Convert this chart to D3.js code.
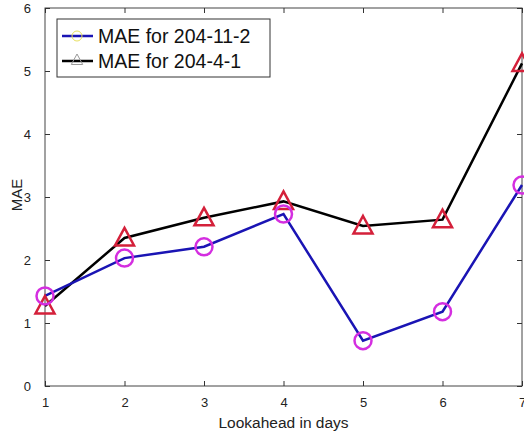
<!DOCTYPE html>
<html>
<head>
<meta charset="utf-8">
<style>
  body { margin: 0; background: #fff; }
  text { font-family: "Liberation Sans", Arial, sans-serif; }
</style>
</head>
<body>
<script src="https://cdn.jsdelivr.net/npm/d3@7"></script>
<script>
// data
var days = [1, 2, 3, 4, 5, 6, 7];
var mae11 = [1.43, 2.03, 2.21, 2.73, 0.72, 1.18, 3.19];
var mae4 = [1.27, 2.35, 2.67, 2.93, 2.54, 2.64, 5.12];
var yTicks = [0, 1, 2, 3, 4, 5, 6];
var names = ["MAE for 204-11-2", "MAE for 204-4-1"];

var width = 524, height = 436;
var m = {left: 45, right: 2, top: 8, bottom: 50};

var svg = d3.select("body").append("svg")
  .attr("width", width).attr("height", height);

var x = d3.scaleLinear().domain([1, 7]).range([m.left, width - m.right]);
var y = d3.scaleLinear().domain([0, 6]).range([height - m.bottom, m.top]);

// box
svg.append("rect")
  .attr("x", x(1)).attr("y", y(6))
  .attr("width", x(7) - x(1)).attr("height", y(0) - y(6))
  .attr("fill", "none").attr("stroke", "#444").attr("stroke-width", 1);

var axCol = "#333";
var gx = svg.append("g").attr("transform", "translate(0," + y(0) + ")")
  .call(d3.axisBottom(x).tickValues(days).tickSize(-5).tickPadding(12).tickFormat(d3.format("d")));
var gxt = svg.append("g").attr("transform", "translate(0," + y(6) + ")")
  .call(d3.axisTop(x).tickValues(days).tickSize(-5).tickFormat(""));
var gy = svg.append("g").attr("transform", "translate(" + x(1) + ",0)")
  .call(d3.axisLeft(y).tickValues(yTicks).tickSize(-5).tickPadding(14).tickFormat(d3.format("d")));
var gyr = svg.append("g").attr("transform", "translate(" + x(7) + ",0)")
  .call(d3.axisRight(y).tickValues(yTicks).tickSize(-5).tickFormat(""));

[gx, gxt, gy, gyr].forEach(function(g) {
  g.select(".domain").remove();
  g.selectAll("line").attr("stroke", axCol);
  g.selectAll("text").attr("fill", "#222").style("font-size", "13px");
});

svg.append("text")
  .attr("x", (x(1) + x(7)) / 2).attr("y", 428)
  .attr("text-anchor", "middle").attr("fill", "#222").style("font-size", "15.5px")
  .text("Lookahead in days");
svg.append("text")
  .attr("transform", "translate(22," + (y(3) - 2) + ") rotate(-90)")
  .attr("text-anchor", "middle").attr("fill", "#222").style("font-size", "15px")
  .text("MAE");

var line = d3.line().x(function(d, i) { return x(days[i]); }).y(function(d) { return y(d); });

svg.append("path").datum(mae4).attr("d", line)
  .attr("fill", "none").attr("stroke", "#000").attr("stroke-width", 2.5);
svg.append("path").datum(mae11).attr("d", line)
  .attr("fill", "none").attr("stroke", "#1a14b4").attr("stroke-width", 2.5);

function tri(cx, cy, s) {
  return "M" + cx + "," + (cy - s) + "L" + (cx + s * 0.95) + "," + (cy + s * 0.75) +
    "L" + (cx - s * 0.95) + "," + (cy + s * 0.75) + "Z";
}

svg.selectAll(".tri").data(mae4).enter().append("path")
  .attr("class", "tri")
  .attr("d", function(d, i) { return tri(x(days[i]), y(d), 10); })
  .attr("fill", "none").attr("stroke", "#d4203a").attr("stroke-width", 2.5);

svg.selectAll(".circ").data(mae11).enter().append("circle")
  .attr("class", "circ")
  .attr("cx", function(d, i) { return x(days[i]); })
  .attr("cy", function(d) { return y(d); })
  .attr("r", 8.5)
  .attr("fill", "none").attr("stroke", "#d42ee0").attr("stroke-width", 2.5);

// legend
var lg = svg.append("g");
lg.append("rect").attr("x", 57).attr("y", 19).attr("width", 213).attr("height", 58)
  .attr("fill", "#fff").attr("stroke", "#333").attr("stroke-width", 1);
var legCols = ["#1a14b4", "#000"];
names.forEach(function(n, i) {
  var ly = 36 + i * 25;
  lg.append("line").attr("x1", 62).attr("x2", 93).attr("y1", ly).attr("y2", ly)
    .attr("stroke", legCols[i]).attr("stroke-width", 2.5);
  if (i == 0) {
    lg.append("circle").attr("cx", 77).attr("cy", ly).attr("r", 5)
      .attr("fill", "none").attr("stroke", "#e8e060").attr("stroke-width", 1);
  } else {
    lg.append("path").attr("d", tri(77, ly - 1, 6))
      .attr("fill", "none").attr("stroke", "#999").attr("stroke-width", 1);
  }
  lg.append("text").attr("x", 98).attr("y", ly + 7)
    .attr("fill", "#111").style("font-size", "19.5px").text(n);
});
</script>
</body>
</html>
